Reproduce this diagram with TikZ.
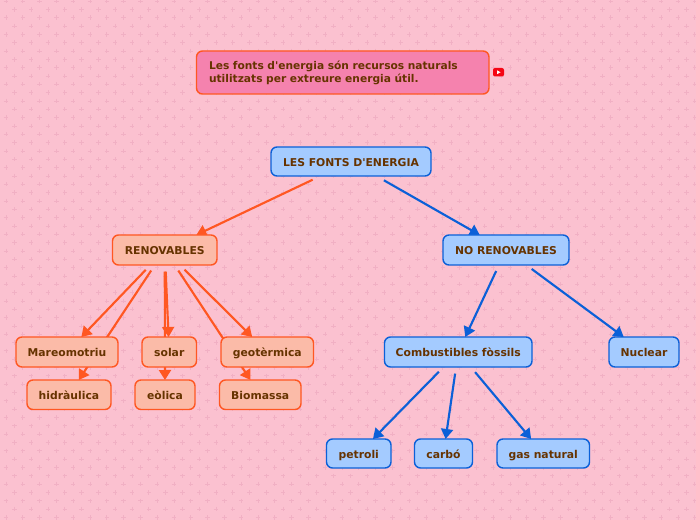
\documentclass[tikz,border=0pt]{standalone}
\usepackage{fontspec}
\setmainfont{DejaVu Sans}[Ligatures=TeXOff]
\usetikzlibrary{arrows.meta}
\pgfdeclarelayer{under}
\pgfsetlayers{under,main}
\definecolor{bgpink}{HTML}{FBC1D0}
\definecolor{plusc}{HTML}{F1B0C4}
\definecolor{txtc}{HTML}{663300}
\definecolor{orl}{HTML}{FF5722}
\definecolor{orf}{HTML}{FBBBA8}
\definecolor{blul}{HTML}{0B60D8}
\definecolor{bluf}{HTML}{A4CBFF}
\definecolor{topf}{HTML}{F582AE}
\definecolor{ytred}{HTML}{F50514}
\tikzset{
  x=0.75pt,y=-0.75pt,
  box/.style={rectangle,rounded corners=4.5pt,line width=1.05pt,inner sep=0pt,
    font=\fontsize{8.1pt}{9.9pt}\selectfont\bfseries,text=txtc,outer sep=0pt,text height=7pt,text depth=0.2pt},
  obox/.style={box,draw=orl,fill=orf},
  bbox/.style={box,draw=blul,fill=bluf},
  olink/.style={draw=orl,line width=1.6pt,shorten <=5pt,-{Triangle[length=7.5pt,width=9pt]}},
  blink/.style={draw=blul,line width=1.6pt,shorten <=5pt,-{Triangle[length=7.5pt,width=9pt]}},
  plusmark/.style={draw=plusc,line width=0.55pt},
}
\newcommand{\boxat}[7]{\node[#1,minimum width=#4*0.75pt,minimum height=#5*0.75pt] (#2) at (#6,#7) {#3};}
\begin{document}
\begin{tikzpicture}
\useasboundingbox (0,0) rectangle (696,520);
\begin{pgfonlayer}{under}
\fill[bgpink] (0,0) rectangle (696,520);
\foreach \j in {0,...,62}{
  \pgfmathsetmacro{\yy}{1+8.33*\j}
  \pgfmathsetmacro{\xo}{mod(\j,2)==0 ? 6 : 14.4}
  \foreach \i in {-1,...,41}{
    \pgfmathsetmacro{\xx}{\xo+16.8*\i}
    \draw[plusmark] (\xx-2.2,\yy) -- (\xx+2.2,\yy) (\xx,\yy-2.2) -- (\xx,\yy+2.2);
  }
}
\end{pgfonlayer}
\node[obox,fill=topf,minimum width=292.5*0.75pt,minimum height=43*0.75pt,
  text width=267.5*0.75pt,align=left,text height=,text depth=,font=\fontsize{8pt}{9.7pt}\selectfont\bfseries] (top) at (342.75,72.5)
  {\rule{0pt}{7.6pt}Les fonts d'energia són recursos naturals\\utilitzats per extreure energia útil.};
\node[rectangle,rounded corners=1.5pt,fill=ytred,minimum width=11*0.75pt,minimum height=8.5*0.75pt,inner sep=0pt] (yt) at (498.5,72.25) {};
\fill[white] (497.2,70.4) -- (500.6,72.25) -- (497.2,74.1) -- cycle;
\boxat{bbox}{root}{LES FONTS D'ENERGIA}{160}{29}{351}{161.5}
\boxat{obox}{ren}{RENOVABLES}{104.5}{30}{164.75}{250}
\boxat{bbox}{nren}{NO RENOVABLES}{126}{30}{506}{250}
\boxat{obox}{mar}{Mareomotriu}{102}{30}{67}{352}
\boxat{obox}{sol}{solar}{54.5}{30}{169.25}{352}
\boxat{obox}{geo}{geotèrmica}{92.5}{30}{267.25}{352}
\boxat{obox}{hid}{hidràulica}{84}{29.5}{69}{394.75}
\boxat{obox}{eol}{eòlica}{60}{29.5}{165}{394.75}
\boxat{obox}{bio}{Biomassa}{81.5}{29.5}{260.25}{394.75}
\boxat{bbox}{comb}{Combustibles fòssils}{147.5}{30}{458.25}{352}
\boxat{bbox}{nuc}{Nuclear}{70}{30}{644}{352}
\boxat{bbox}{pet}{petroli}{64.5}{29}{358.75}{453.5}
\boxat{bbox}{car}{carbó}{58}{29}{443.5}{453.5}
\boxat{bbox}{gas}{gas natural}{92.5}{29}{543.25}{453.5}
\begin{pgfonlayer}{under}
\draw[olink,shorten <=6.5pt] (root) -- (ren);
\draw[blink,shorten <=6.5pt] (root) -- (nren);
\draw[olink] (ren) -- (mar);
\draw[olink] (ren) -- (hid);
\draw[olink] (ren) -- (sol);
\draw[olink] (ren) -- (eol);
\draw[olink] (ren) -- (geo);
\draw[olink] (ren) -- (bio);
\draw[blink] (nren) -- (comb);
\draw[blink] (nren) -- (nuc);
\draw[blink] (comb) -- (pet);
\draw[blink] (comb) -- (car);
\draw[blink] (comb) -- (gas);
\end{pgfonlayer}
\end{tikzpicture}
\end{document}
